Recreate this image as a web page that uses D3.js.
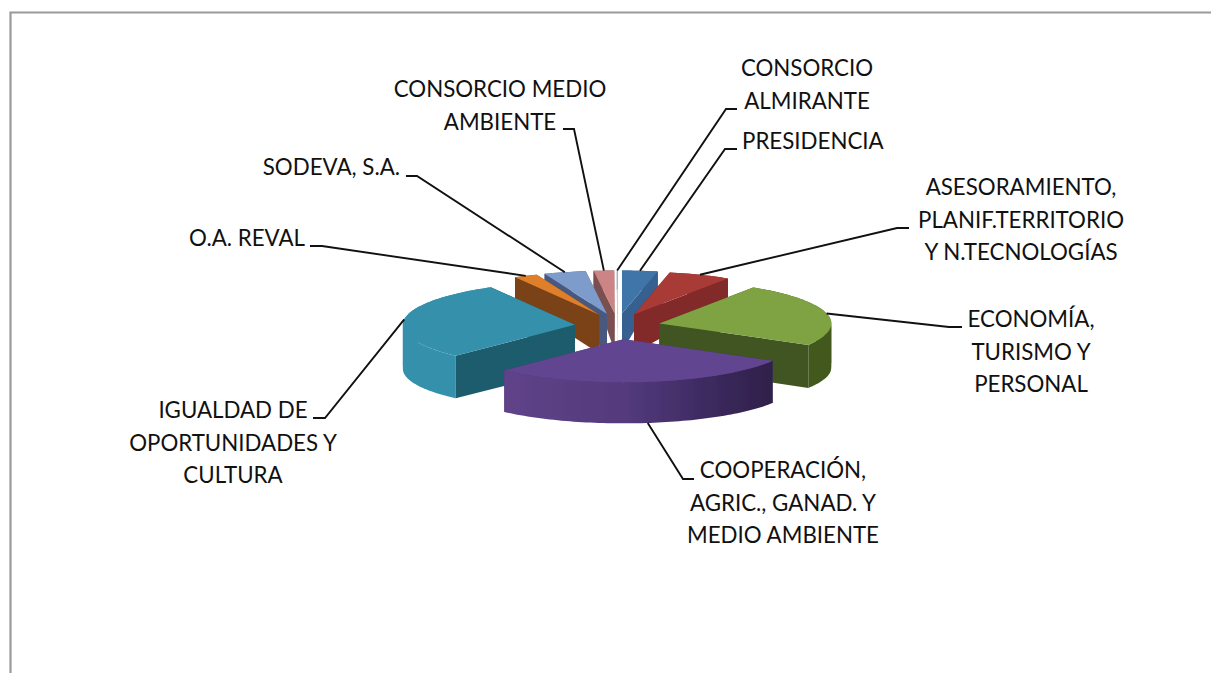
<!DOCTYPE html>
<html>
<head>
<meta charset="utf-8">
<script src="https://cdn.jsdelivr.net/npm/d3@7"></script>
<style>
  html, body { margin: 0; padding: 0; background: #fff; }
  svg { display: block; }
</style>
</head>
<body>
<div id="chart"></div>
<script>
// Data (share of the budget, %)
const categories = ["PRESIDENCIA", "ASESORAMIENTO", "ECONOMIA", "COOPERACION", "IGUALDAD", "REVAL", "SODEVA", "MEDIO AMBIENTE", "ALMIRANTE"];
const values = [3.3, 5.8, 23.9, 28.6, 29.4, 2.2, 3.9, 1.9, 0.05];

// Label text, one array of lines per category
const labelLines = [
    ["PRESIDENCIA"],
    ["ASESORAMIENTO,", "PLANIF.TERRITORIO", "Y N.TECNOLOGÍAS"],
    ["ECONOMÍA,", "TURISMO Y", "PERSONAL"],
    ["COOPERACIÓN,", "AGRIC., GANAD. Y", "MEDIO AMBIENTE"],
    ["IGUALDAD DE", "OPORTUNIDADES Y", "CULTURA"],
    ["O.A. REVAL"],
    ["SODEVA, S.A."],
    ["CONSORCIO MEDIO", "AMBIENTE"],
    ["CONSORCIO", "ALMIRANTE"]
];

// Colours per slice: top face, straight wall, outer wall
const topColors = ["#3f74aa", "#a83a36", "#7fa242", "#624590", "#3590ab", "#e07f2c", "#7d9bcb", "#cc8484", "#8c9fc0"];
const wallColors = ["#35608f", "#82292a", "#3f5420", "#4c3472", "#1c5c6c", "#7a4318", "#48597f", "#7a4f50", "#5f6d85"];
const outerColors = ["#35608f", "#82292a", "#42581f", "url(#purpleWall)", "#3590ab", "#7a4318", "#48597f", "#7a4f50", "#5f6d85"];

// Label placement: text anchor point, first baseline, elbow of the leader line
const labelX = [742, 1021, 1031, 783, 233, 305, 400, 500, 807];
const labelY = [149, 195, 327, 478, 418, 246, 175, 97, 76];
const labelAnchor = ["start", "middle", "middle", "middle", "middle", "end", "end", "middle", "middle"];
const elbows = [[737, 725, 149], [909, 897, 228], [962, 949, 327], [694, 683, 479], [313, 325, 418], [310, 322, 246], [406, 417, 176], [563, 574, 129], [737, 726, 109]];

const width = 1211;
const height = 673;
const lineHeight = 32.5;

// Pie geometry on screen
const cx = 617.5, cy = 326.5;
const rx = 172, ry = 43;
const explodeX = 43, explodeY = 13;

const svg = d3.select("#chart")
    .append("svg")
    .attr("width", width)
    .attr("height", height);

const defs = svg.append("defs");
const purpleWall = defs.append("linearGradient")
    .attr("id", "purpleWall")
    .attr("gradientUnits", "userSpaceOnUse")
    .attr("x1", 505).attr("x2", 775).attr("y1", 0).attr("y2", 0);
purpleWall.selectAll("stop")
    .data([[0, "#5f4389"], [0.45, "#533a7c"], [0.75, "#3d2a60"], [1, "#2e2048"]])
    .join("stop")
    .attr("offset", d => d[0])
    .attr("stop-color", d => d[1]);

defs.append("filter")
    .attr("id", "soft")
    .append("feGaussianBlur")
    .attr("stdDeviation", 0.6);

// Frame: only top and left edges are in the picture
svg.append("path")
    .attr("d", `M10.5,${height}V12.5H${width}`)
    .attr("fill", "none")
    .attr("stroke", "#9a9a9a")
    .attr("stroke-width", 2.2);

const pie = d3.pie().sort(null).value(d => d).startAngle(0).endAngle(2 * Math.PI);
const arcs = pie(values).map((d, i) => ({...d, i, mid: (d.startAngle + d.endAngle) / 2}));

// Wall height grows towards the viewer
const wallHeight = d3.scaleLinear().domain([-1.3, 0, 1.3]).range([41, 44, 19]).clamp(true);

function project(d, angle, r) {
    const x = cx + explodeX * Math.sin(d.mid) + rx * r * Math.sin(angle);
    const y = cy - explodeY * Math.cos(d.mid) - ry * r * Math.cos(angle);
    return [x, y];
}
const down = p => [p[0], p[1] + wallHeight((cy - p[1]) / ry)];

const line = d3.line();
const polygon = pts => line(pts) + "Z";

const pieGroup = svg.append("g").attr("filter", "url(#soft)");

// Paint back slices first
arcs.slice().sort((a, b) => Math.cos(b.mid) - Math.cos(a.mid)).forEach(d => {
    const steps = Math.max(2, Math.ceil((d.endAngle - d.startAngle) * 40));
    const angles = d3.range(steps + 1).map(k => d.startAngle + (d.endAngle - d.startAngle) * k / steps);
    const rim = angles.map(a => project(d, a, 1));
    const apex = project(d, 0, 0);
    const g = pieGroup.append("g").attr("class", "slice");

    // Back and front of the rim apart: one polygon would cancel itself where
    // the rim crosses its own lower edge
    const outerWall = () => {
        const back = angles.filter(a => Math.cos(a) >= 0).map(a => project(d, a, 1));
        const front = angles.filter(a => Math.cos(a) <= 0).map(a => project(d, a, 1));
        [back, front].filter(part => part.length > 1).forEach(part => {
            g.append("path")
                .attr("d", polygon(part.concat(part.map(down).reverse())))
                .attr("fill", outerColors[d.i]);
        });
    };
    const straightWalls = () => [rim[0], rim[steps]].forEach(p => {
        g.append("path")
            .attr("d", polygon([apex, p, down(p), down(apex)]))
            .attr("fill", wallColors[d.i]);
    });

    if (Math.cos(d.mid) > 0) { outerWall(); straightWalls(); }
    else { straightWalls(); outerWall(); }

    g.append("path")
        .attr("d", polygon([apex].concat(rim)))
        .attr("fill", topColors[d.i]);
});

// Leader lines, from the rim of each slice to the label
svg.append("g").selectAll("path")
    .data(arcs)
    .join("path")
    .attr("d", d => {
        let p = project(d, d.mid, 1);
        if (Math.cos(d.mid) < -0.5) p = down(p);
        const e = elbows[d.i];
        return line([p, [e[1], e[2]], [e[0], e[2]]]);
    })
    .attr("fill", "none")
    .attr("stroke", "#111")
    .attr("stroke-width", 1.9);

// Labels
const labels = svg.append("g")
    .attr("font-family", "Lato, sans-serif")
    .attr("font-size", 22.3)
    .attr("fill", "#111")
    .selectAll("text")
    .data(arcs)
    .join("text")
    .attr("text-anchor", d => labelAnchor[d.i]);

labels.selectAll("tspan")
    .data(d => labelLines[d.i].map((t, k) => ({t, k, i: d.i})))
    .join("tspan")
    .attr("x", d => labelX[d.i])
    .attr("y", d => labelY[d.i] + d.k * lineHeight)
    .text(d => d.t);
</script>
</body>
</html>
